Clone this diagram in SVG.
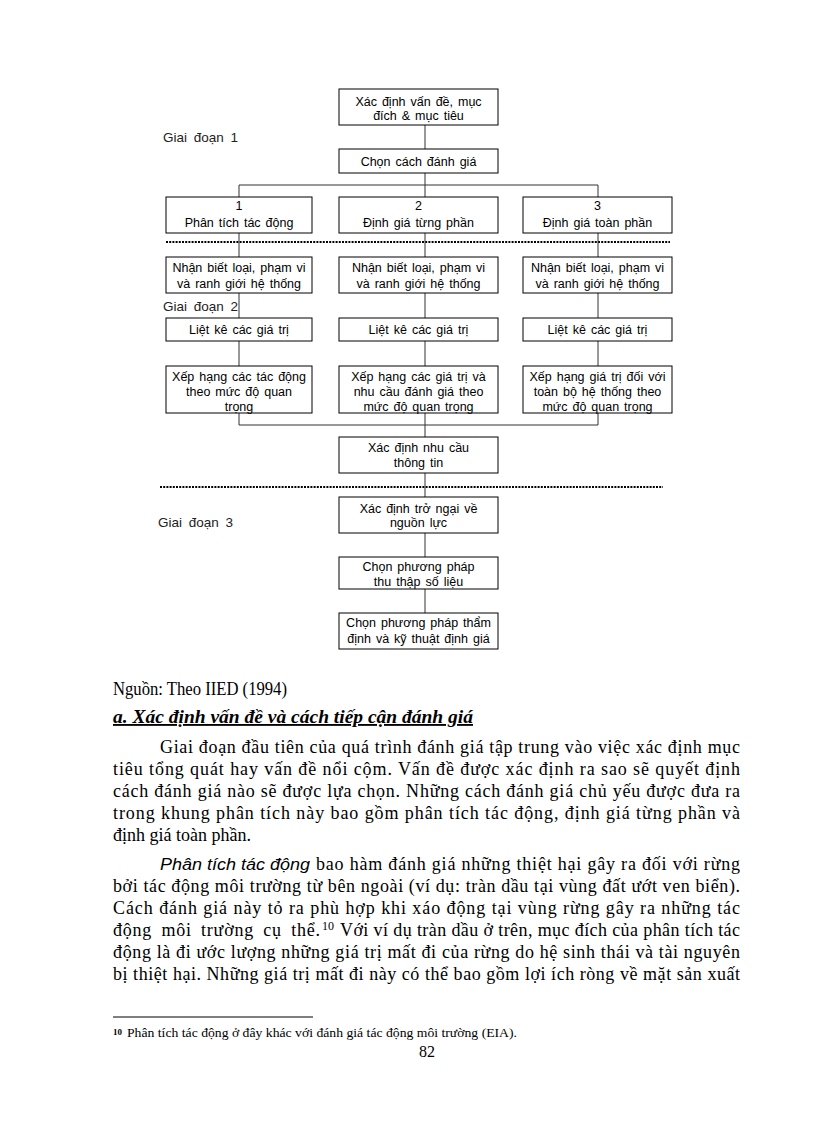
<svg xmlns="http://www.w3.org/2000/svg" width="816" height="1123" viewBox="0 0 816 1123">
<style>
.box{fill:#fff;stroke:#000;stroke-width:1}
.bt{font-family:"Liberation Sans",Arial,sans-serif;font-size:12.5px;fill:#000;text-anchor:middle;word-spacing:1.5px}
.stage{font-family:"Liberation Sans",Arial,sans-serif;font-size:13.5px;fill:#222;word-spacing:3px}
.con{stroke:#333;stroke-width:1;fill:none}
.dot{stroke:#000;stroke-width:1.8;stroke-dasharray:2 1.2;fill:none}
.body{font-family:"Liberation Serif","Times New Roman",serif;font-size:18px;fill:#000}
.it{font-family:"Liberation Sans",Arial,sans-serif;font-style:italic;font-size:16px}
.sup{font-family:"Liberation Serif","Times New Roman",serif;font-size:12px;fill:#000}
.fn{font-family:"Liberation Serif","Times New Roman",serif;font-size:12px;fill:#000}
.fnsup{font-family:"Liberation Serif","Times New Roman",serif;font-size:9px;font-weight:bold;fill:#000}
.pg{font-family:"Liberation Serif","Times New Roman",serif;font-size:16px;fill:#000;text-anchor:middle}
.hd{font-family:"Liberation Serif","Times New Roman",serif;font-size:18.5px;font-weight:bold;font-style:italic;fill:#000;text-decoration:underline}
</style>
<rect width="816" height="1123" fill="#fff"/>

<g id="separators">
<line class="dot" x1="166" y1="242" x2="670" y2="242"/>
<line class="dot" x1="160" y1="487" x2="663" y2="487"/>
</g>

<g id="stage-labels">
<text class="stage" x="163" y="142">Giai đoạn 1</text>
<text class="stage" x="163" y="311">Giai đoạn 2</text>
<text class="stage" x="158" y="527">Giai đoạn 3</text>
</g>

<g id="connectors">
<line class="con" x1="425" y1="125" x2="425" y2="149"/>
<line class="con" x1="425" y1="173" x2="425" y2="185"/>
<polyline class="con" points="239,197 239,185 598,185 598,197"/>
<line class="con" x1="425" y1="185" x2="425" y2="197"/>
<line class="con" x1="239" y1="233" x2="239" y2="257"/>
<line class="con" x1="425" y1="233" x2="425" y2="257"/>
<line class="con" x1="598" y1="233" x2="598" y2="257"/>
<line class="con" x1="239" y1="293" x2="239" y2="318"/>
<line class="con" x1="425" y1="293" x2="425" y2="318"/>
<line class="con" x1="598" y1="293" x2="598" y2="318"/>
<line class="con" x1="239" y1="341" x2="239" y2="366"/>
<line class="con" x1="425" y1="341" x2="425" y2="366"/>
<line class="con" x1="598" y1="341" x2="598" y2="366"/>
<polyline class="con" points="239,413 239,425 598,425 598,413"/>
<line class="con" x1="425" y1="413" x2="425" y2="437"/>
<line class="con" x1="425" y1="473" x2="425" y2="497"/>
<line class="con" x1="425" y1="533" x2="425" y2="557"/>
<line class="con" x1="425" y1="589" x2="425" y2="613"/>
</g>

<g id="n-problem">
<rect class="box" x="339" y="89" width="159" height="36"/>
<text class="bt" x="418.5" y="105.5">Xác định vấn đề, mục</text>
<text class="bt" x="418.5" y="119.5">đích &amp; mục tiêu</text>
</g>
<g id="n-choose">
<rect class="box" x="339" y="149" width="159" height="24"/>
<text class="bt" x="418.5" y="165.5">Chọn cách đánh giá</text>
</g>

<g id="n-a1">
<rect class="box" x="166" y="197" width="146" height="36"/>
<text class="bt" x="239" y="210">1</text>
<text class="bt" x="239" y="226.5">Phân tích tác động</text>
</g>
<g id="n-a2">
<rect class="box" x="339" y="197" width="159" height="36"/>
<text class="bt" x="418.5" y="210">2</text>
<text class="bt" x="418.5" y="226.5">Định giá từng phần</text>
</g>
<g id="n-a3">
<rect class="box" x="523" y="197" width="149" height="36"/>
<text class="bt" x="597.5" y="210">3</text>
<text class="bt" x="597.5" y="226.5">Định giá toàn phần</text>
</g>

<g id="n-b1">
<rect class="box" x="166" y="257" width="146" height="36"/>
<text class="bt" x="239" y="272">Nhận biết loại, phạm vi</text>
<text class="bt" x="239" y="287.5">và ranh giới hệ thống</text>
</g>
<g id="n-b2">
<rect class="box" x="339" y="257" width="159" height="36"/>
<text class="bt" x="418.5" y="272">Nhận biết loại, phạm vi</text>
<text class="bt" x="418.5" y="287.5">và ranh giới hệ thống</text>
</g>
<g id="n-b3">
<rect class="box" x="523" y="257" width="149" height="36"/>
<text class="bt" x="597.5" y="272">Nhận biết loại, phạm vi</text>
<text class="bt" x="597.5" y="287.5">và ranh giới hệ thống</text>
</g>

<g id="n-c1">
<rect class="box" x="166" y="318" width="146" height="23"/>
<text class="bt" x="239" y="333.5">Liệt kê các giá trị</text>
</g>
<g id="n-c2">
<rect class="box" x="339" y="318" width="159" height="23"/>
<text class="bt" x="418.5" y="333.5">Liệt kê các giá trị</text>
</g>
<g id="n-c3">
<rect class="box" x="523" y="318" width="149" height="23"/>
<text class="bt" x="597.5" y="333.5">Liệt kê các giá trị</text>
</g>

<g id="n-d1">
<rect class="box" x="166" y="366" width="146" height="47"/>
<text class="bt" x="239" y="380.5">Xếp hạng các tác động</text>
<text class="bt" x="239" y="395.5">theo mức độ quan</text>
<text class="bt" x="239" y="410.5">trọng</text>
</g>
<g id="n-d2">
<rect class="box" x="339" y="366" width="159" height="47"/>
<text class="bt" x="418.5" y="380.5">Xếp hạng các giá trị và</text>
<text class="bt" x="418.5" y="395.5">nhu cầu đánh giá theo</text>
<text class="bt" x="418.5" y="410.5">mức độ quan trọng</text>
</g>
<g id="n-d3">
<rect class="box" x="523" y="366" width="149" height="47"/>
<text class="bt" x="597.5" y="380.5">Xếp hạng giá trị đối với</text>
<text class="bt" x="597.5" y="395.5">toàn bộ hệ thống theo</text>
<text class="bt" x="597.5" y="410.5">mức độ quan trọng</text>
</g>

<g id="n-info">
<rect class="box" x="339" y="437" width="159" height="36"/>
<text class="bt" x="418.5" y="452">Xác định nhu cầu</text>
<text class="bt" x="418.5" y="466.5">thông tin</text>
</g>
<g id="n-resource">
<rect class="box" x="339" y="497" width="159" height="36"/>
<text class="bt" x="418.5" y="512.5">Xác định trở ngại về</text>
<text class="bt" x="418.5" y="527">nguồn lực</text>
</g>
<g id="n-data">
<rect class="box" x="339" y="557" width="159" height="32"/>
<text class="bt" x="418.5" y="570.5">Chọn phương pháp</text>
<text class="bt" x="418.5" y="586">thu thập số liệu</text>
</g>
<g id="n-method">
<rect class="box" x="339" y="613" width="159" height="36"/>
<text class="bt" x="418.5" y="627">Chọn phương pháp thẩm</text>
<text class="bt" x="418.5" y="642.5">định và kỹ thuật định giá</text>
</g>

<g id="body-text">
<text class="body" x="113" y="695" textLength="174" lengthAdjust="spacingAndGlyphs">Nguồn: Theo IIED (1994)</text>
<text class="hd" x="113" y="723" textLength="360" lengthAdjust="spacingAndGlyphs">a. Xác định vấn đề và cách tiếp cận đánh giá</text>

<text class="body" x="160" y="753" textLength="580" lengthAdjust="spacing">Giai đoạn đầu tiên của quá trình đánh giá tập trung vào việc xác định mục</text>
<text class="body" x="113" y="775" textLength="627" lengthAdjust="spacing">tiêu tổng quát hay vấn đề nổi cộm. Vấn đề được xác định ra sao sẽ quyết định</text>
<text class="body" x="113" y="797" textLength="627" lengthAdjust="spacing">cách đánh giá nào sẽ được lựa chọn. Những cách đánh giá chủ yếu được đưa ra</text>
<text class="body" x="113" y="819" textLength="627" lengthAdjust="spacing">trong khung phân tích này bao gồm phân tích tác động, định giá từng phần và</text>
<text class="body" x="113" y="841">định giá toàn phần.</text>

<text class="it" x="160" y="870" textLength="150" lengthAdjust="spacingAndGlyphs">Phân tích tác động</text>
<text class="body" x="316" y="870" textLength="424" lengthAdjust="spacing">bao hàm đánh giá những thiệt hại gây ra đối với rừng</text>
<text class="body" x="113" y="892" textLength="627" lengthAdjust="spacing">bởi tác động môi trường từ bên ngoài (ví dụ: tràn dầu tại vùng đất ướt ven biển).</text>
<text class="body" x="113" y="914" textLength="627" lengthAdjust="spacing">Cách đánh giá này tỏ ra phù hợp khi xáo động tại vùng rừng gây ra những tác</text>
<text class="body" x="113" y="936" textLength="207" lengthAdjust="spacing" style="word-spacing:4px">động môi trường cụ thể.</text>
<text class="sup" x="322" y="930">10</text>
<text class="body" x="340" y="936" textLength="400" lengthAdjust="spacing">Với ví dụ tràn dầu ở trên, mục đích của phân tích tác</text>
<text class="body" x="113" y="958" textLength="627" lengthAdjust="spacing">động là đi ước lượng những giá trị mất đi của rừng do hệ sinh thái và tài nguyên</text>
<text class="body" x="113" y="980" textLength="627" lengthAdjust="spacing">bị thiệt hại. Những giá trị mất đi này có thể bao gồm lợi ích ròng về mặt sản xuất</text>
</g>

<g id="footnote">
<line x1="113" y1="1017" x2="313" y2="1017" stroke="#000" stroke-width="1"/>
<text class="fnsup" x="113" y="1035">10</text>
<text class="fn" x="127" y="1037" textLength="390" lengthAdjust="spacingAndGlyphs">Phân tích tác động ở đây khác với đánh giá tác động môi trường (EIA).</text>
<text class="pg" x="427" y="1057">82</text>
</g>
</svg>
